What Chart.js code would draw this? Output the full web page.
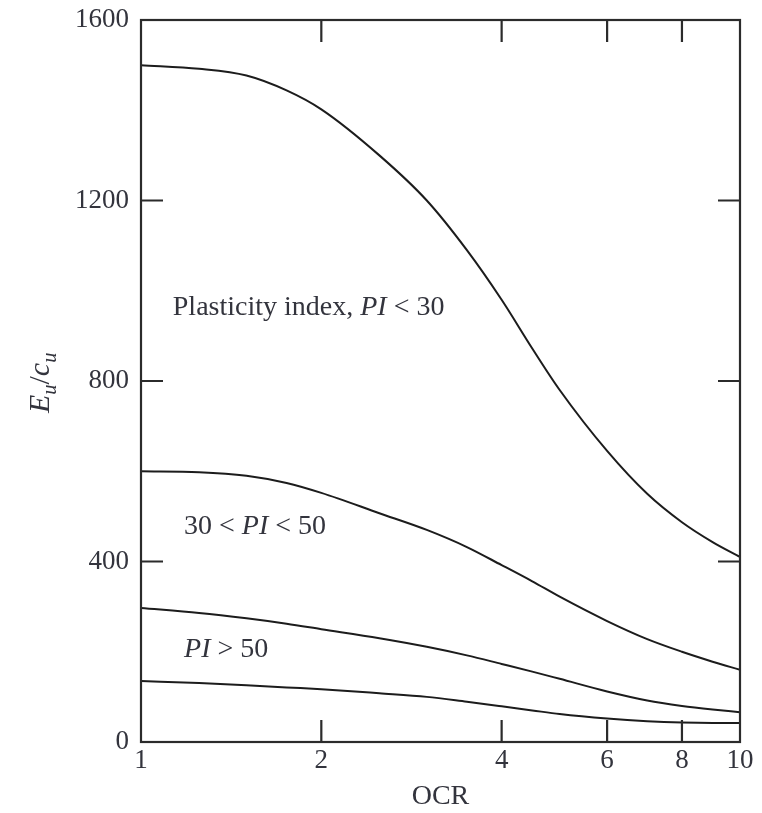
<!DOCTYPE html>
<html>
<head>
<meta charset="utf-8">
<script src="https://cdn.jsdelivr.net/npm/chart.js@4.4.1/dist/chart.umd.min.js"></script>
<style>
  html, body { margin: 0; padding: 0; background: #fff; }
  #wrap { width: 762px; height: 813px; }
</style>
</head>
<body>
<div id="wrap"><canvas id="chart" width="762" height="813"></canvas></div>
<script>
// OCR values (log axis)
const ocr = [1, 1.25, 1.5, 1.75, 2, 2.5, 3, 3.5, 4, 4.5, 5, 6, 7, 8, 9, 10];

// Eu/cu
const piBelow30 = [1500, 1492, 1477, 1444, 1402, 1300, 1200, 1090, 980, 872, 780, 645, 550, 487, 443, 410];
const pi30to50  = [600, 598, 590, 574, 552, 507, 470, 432, 392, 356, 322, 268, 228, 200, 178, 160];
const piAbove50 = [297, 286, 274, 262, 250, 230, 211, 192, 173, 156, 140, 112, 92, 80, 72, 66];
const lowest    = [135, 131, 126, 121, 117, 108, 100, 89, 79, 70, 62, 52, 46, 43, 42, 42];

const xTicks = [1, 2, 4, 6, 8, 10];
const yTicks = [0, 400, 800, 1200, 1600];

const ink = '#1c1c1c';
const textInk = '#33343d';
const serif = '"Liberation Serif", "DejaVu Serif", serif';

const mkSet = (vals) => ({
  data: ocr.map((x, i) => ({ x, y: vals[i] })),
  borderColor: ink,
  borderWidth: 2,
  pointRadius: 0,
  fill: false,
  cubicInterpolationMode: 'monotone'
});

// draw text made of pieces: [text, italic, subscript]
const drawRuns = (ctx, runs, x, y, size) => {
  let cx = x;
  runs.forEach(([t, it, sub]) => {
    const s = sub ? size * 0.68 : size;
    ctx.font = (it ? 'italic ' : '') + s + 'px ' + serif;
    ctx.fillText(t, cx, sub ? y + size * 0.22 : y);
    cx += ctx.measureText(t).width;
  });
};

const framePlugin = {
  id: 'frame',
  afterDraw(chart) {
    const { ctx, chartArea: a, scales } = chart;
    const xs = scales.x, ys = scales.y;
    ctx.save();
    ctx.strokeStyle = '#2b2b2b';
    ctx.lineWidth = 2.2;
    ctx.strokeRect(a.left, a.top, a.right - a.left, a.bottom - a.top);
    const tl = 22;
    ctx.beginPath();
    xTicks.slice(1, -1).forEach(v => {
      const px = xs.getPixelForValue(v);
      ctx.moveTo(px, a.bottom); ctx.lineTo(px, a.bottom - tl);
      ctx.moveTo(px, a.top); ctx.lineTo(px, a.top + tl);
    });
    yTicks.slice(1, -1).forEach(v => {
      const py = ys.getPixelForValue(v);
      ctx.moveTo(a.left, py); ctx.lineTo(a.left + tl, py);
      ctx.moveTo(a.right, py); ctx.lineTo(a.right - tl, py);
    });
    ctx.stroke();

    // curve labels
    ctx.fillStyle = textInk;
    ctx.textBaseline = 'alphabetic';
    ctx.textAlign = 'left';
    const fs = 28;
    drawRuns(ctx, [['Plasticity index, ', false], ['PI', true], [' < 30', false]],
      xs.getPixelForValue(1.13), ys.getPixelForValue(946), fs);
    drawRuns(ctx, [['30 < ', false], ['PI', true], [' < 50', false]],
      xs.getPixelForValue(1.18), ys.getPixelForValue(460), fs);
    drawRuns(ctx, [['PI', true], [' > 50', false]],
      xs.getPixelForValue(1.18), ys.getPixelForValue(188), fs);

    // y axis title Eu/cu, rotated
    ctx.translate(49, 413);
    ctx.rotate(-Math.PI / 2);
    drawRuns(ctx, [['E', true], ['u', true, true], ['/', false], ['c', true], ['u', true, true]], 0, 0, 30);
    ctx.restore();
  }
};

new Chart(document.getElementById('chart'), {
  type: 'line',
  data: { datasets: [mkSet(piBelow30), mkSet(pi30to50), mkSet(piAbove50), mkSet(lowest)] },
  options: {
    responsive: false,
    animation: false,
    layout: { padding: { top: 20, right: 22, left: 0, bottom: 0 } },
    plugins: { legend: { display: false }, tooltip: { enabled: false } },
    scales: {
      x: {
        type: 'logarithmic',
        min: 1,
        max: 10,
        afterBuildTicks: s => { s.ticks = xTicks.map(v => ({ value: v })); },
        afterFit: s => { s.height = 71; s.paddingLeft = 0; s.paddingRight = 0; },
        grid: { display: false, drawTicks: false },
        border: { display: false },
        ticks: {
          color: textInk,
          font: { family: serif, size: 27 },
          padding: 3,
          maxRotation: 0,
          autoSkip: false,
          callback: v => String(v)
        },
        title: {
          display: true,
          text: 'OCR',
          color: textInk,
          font: { family: serif, size: 28 },
          padding: { top: 0, bottom: 0 }
        }
      },
      y: {
        min: 0,
        max: 1600,
        afterBuildTicks: s => { s.ticks = yTicks.map(v => ({ value: v })); },
        afterFit: s => { s.width = 141; s.paddingTop = 0; s.paddingBottom = 0; },
        grid: { display: false, drawTicks: false },
        border: { display: false },
        ticks: {
          color: textInk,
          font: { family: serif, size: 27 },
          padding: 12,
          callback: v => String(v)
        }
      }
    }
  },
  plugins: [framePlugin]
});
</script>
</body>
</html>
